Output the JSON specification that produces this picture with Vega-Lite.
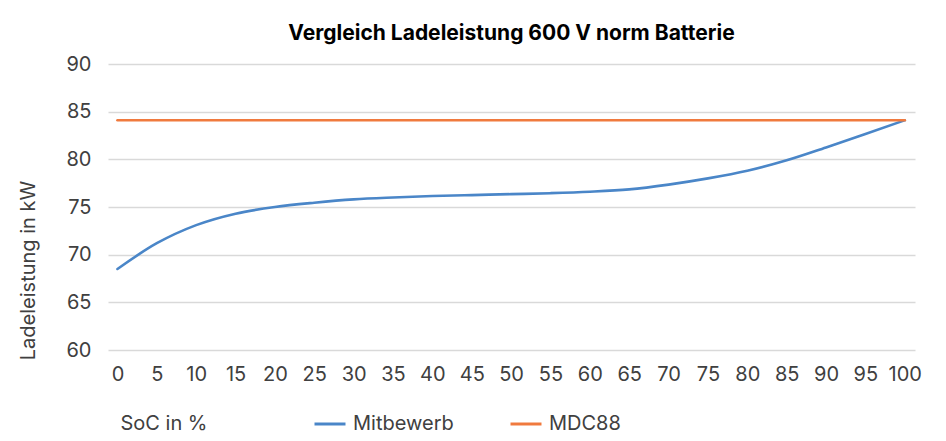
{
  "$schema": "https://vega.github.io/schema/vega-lite/v6.json",
  "width": 807,
  "height": 286,
  "autosize": "none",
  "padding": {"left": 108, "top": 64, "right": 31, "bottom": 91},
  "background": "#ffffff",
  "title": {
    "text": "Vergleich Ladeleistung 600 V norm Batterie",
    "anchor": "middle",
    "font": "Inter",
    "fontSize": 21,
    "fontWeight": "bold",
    "color": "#000000",
    "offset": 10
  },
  "data": {
    "values": [
      {"soc": 0, "kw": 68.5, "serie": "Mitbewerb"},
      {"soc": 5, "kw": 71.2, "serie": "Mitbewerb"},
      {"soc": 10, "kw": 73.1, "serie": "Mitbewerb"},
      {"soc": 15, "kw": 74.3, "serie": "Mitbewerb"},
      {"soc": 20, "kw": 75.0, "serie": "Mitbewerb"},
      {"soc": 25, "kw": 75.45, "serie": "Mitbewerb"},
      {"soc": 30, "kw": 75.8, "serie": "Mitbewerb"},
      {"soc": 35, "kw": 76.0, "serie": "Mitbewerb"},
      {"soc": 40, "kw": 76.15, "serie": "Mitbewerb"},
      {"soc": 45, "kw": 76.25, "serie": "Mitbewerb"},
      {"soc": 50, "kw": 76.35, "serie": "Mitbewerb"},
      {"soc": 55, "kw": 76.45, "serie": "Mitbewerb"},
      {"soc": 60, "kw": 76.6, "serie": "Mitbewerb"},
      {"soc": 65, "kw": 76.85, "serie": "Mitbewerb"},
      {"soc": 70, "kw": 77.35, "serie": "Mitbewerb"},
      {"soc": 75, "kw": 78.0, "serie": "Mitbewerb"},
      {"soc": 80, "kw": 78.8, "serie": "Mitbewerb"},
      {"soc": 85, "kw": 79.9, "serie": "Mitbewerb"},
      {"soc": 90, "kw": 81.25, "serie": "Mitbewerb"},
      {"soc": 95, "kw": 82.65, "serie": "Mitbewerb"},
      {"soc": 100, "kw": 84.1, "serie": "Mitbewerb"},
      {"soc": 0, "kw": 84.1, "serie": "MDC88"},
      {"soc": 5, "kw": 84.1, "serie": "MDC88"},
      {"soc": 10, "kw": 84.1, "serie": "MDC88"},
      {"soc": 15, "kw": 84.1, "serie": "MDC88"},
      {"soc": 20, "kw": 84.1, "serie": "MDC88"},
      {"soc": 25, "kw": 84.1, "serie": "MDC88"},
      {"soc": 30, "kw": 84.1, "serie": "MDC88"},
      {"soc": 35, "kw": 84.1, "serie": "MDC88"},
      {"soc": 40, "kw": 84.1, "serie": "MDC88"},
      {"soc": 45, "kw": 84.1, "serie": "MDC88"},
      {"soc": 50, "kw": 84.1, "serie": "MDC88"},
      {"soc": 55, "kw": 84.1, "serie": "MDC88"},
      {"soc": 60, "kw": 84.1, "serie": "MDC88"},
      {"soc": 65, "kw": 84.1, "serie": "MDC88"},
      {"soc": 70, "kw": 84.1, "serie": "MDC88"},
      {"soc": 75, "kw": 84.1, "serie": "MDC88"},
      {"soc": 80, "kw": 84.1, "serie": "MDC88"},
      {"soc": 85, "kw": 84.1, "serie": "MDC88"},
      {"soc": 90, "kw": 84.1, "serie": "MDC88"},
      {"soc": 95, "kw": 84.1, "serie": "MDC88"},
      {"soc": 100, "kw": 84.1, "serie": "MDC88"}
    ]
  },
  "mark": {"type": "line", "interpolate": "monotone", "strokeWidth": 2.6, "strokeCap": "round"},
  "encoding": {
    "x": {
      "field": "soc",
      "type": "quantitative",
      "scale": {"domain": [-1.2, 101.3], "nice": false, "zero": false},
      "axis": {
        "values": [0, 5, 10, 15, 20, 25, 30, 35, 40, 45, 50, 55, 60, 65, 70, 75, 80, 85, 90, 95, 100],
        "title": "SoC in %",
        "titleAnchor": "start",
        "titleAlign": "left",
        "titleX": 12,
        "titleY": 79,
        "titleBaseline": "alphabetic",
        "titleFont": "Inter",
        "titleFontSize": 20,
        "titleFontWeight": "normal",
        "titleColor": "#404040",
        "labelFont": "Inter",
        "labelFontSize": 20,
        "labelColor": "#404040",
        "labelPadding": 14,
        "labelOverlap": false,
        "labelFlush": false,
        "ticks": false,
        "domain": false,
        "grid": false
      }
    },
    "y": {
      "field": "kw",
      "type": "quantitative",
      "scale": {"domain": [60, 90], "nice": false, "zero": false},
      "axis": {
        "values": [60, 65, 70, 75, 80, 85, 90],
        "title": "Ladeleistung in kW",
        "titleX": -80,
        "titleY": 206,
        "titleAlign": "center",
        "titleBaseline": "middle",
        "titleFont": "Inter",
        "titleFontSize": 20,
        "titleFontWeight": "normal",
        "titleColor": "#404040",
        "labelFont": "Inter",
        "labelFontSize": 20,
        "labelColor": "#404040",
        "labelPadding": 17,
        "ticks": false,
        "domain": false,
        "grid": true,
        "gridColor": "#d9d9d9",
        "gridWidth": 1.3
      }
    },
    "color": {
      "field": "serie",
      "type": "nominal",
      "scale": {"domain": ["Mitbewerb", "MDC88"], "range": ["#4a86c8", "#f07a3e"]},
      "legend": {
        "orient": "none",
        "legendX": 205,
        "legendY": 343,
        "direction": "horizontal",
        "title": null,
        "symbolType": "stroke",
        "symbolSize": 961,
        "symbolStrokeWidth": 3,
        "labelFont": "Inter",
        "labelFontSize": 20,
        "labelColor": "#404040",
        "labelOffset": 6,
        "columnPadding": 50
      }
    }
  },
  "config": {
    "view": {"stroke": null}
  }
}
